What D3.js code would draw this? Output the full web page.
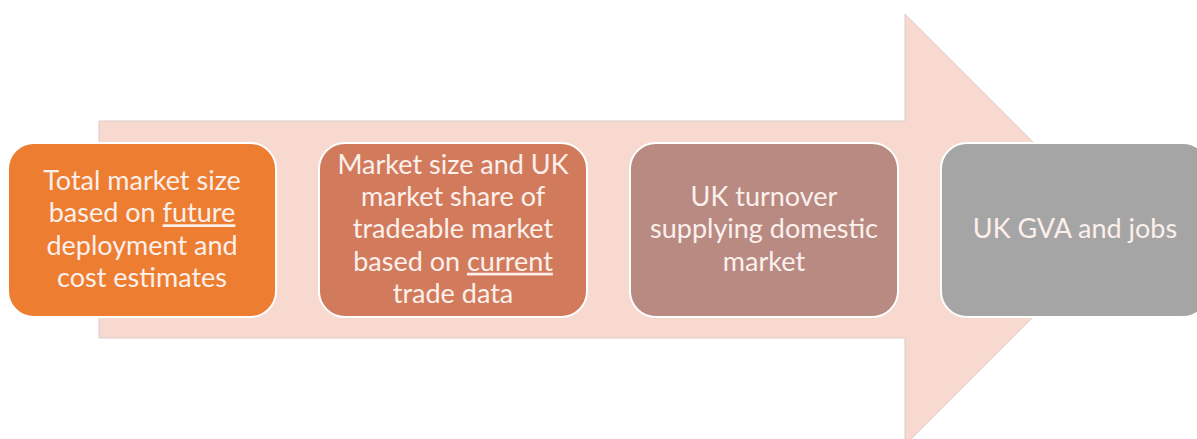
<!DOCTYPE html>
<html>
<head>
<meta charset="utf-8">
<script src="https://cdn.jsdelivr.net/npm/d3@7/dist/d3.min.js"></script>
<style>
  html, body { margin: 0; padding: 0; background: #ffffff; }
  svg { display: block; }
</style>
</head>
<body>
<svg id="chart" width="1197" height="439"></svg>
<script>
// ---- data ----
const steps = ["step1", "step2", "step3", "step4"];
// each label line; words wrapped in _ _ are underlined
const stepLabels = [
  ["Total market size", "based on _future_", "deployment and", "cost estimates"],
  ["Market size and UK", "market share of", "tradeable market", "based on _current_", "trade data"],
  ["UK turnover", "supplying domestic", "market"],
  ["UK GVA and jobs"]
];
const stepColors = ["#ed7d31", "#d27b5c", "#b88a82", "#a5a5a5"];

// ---- layout ----
const W = 1197, H = 439;
const svg = d3.select("#chart");

const x = d3.scaleBand()
  .domain(steps)
  .range([8, 1209])
  .paddingInner(0.138)
  .paddingOuter(0);

const y = d3.scaleLinear().domain([0, 1]).range([143, 317]);

// Arrow
const shaftTop = 121, shaftBottom = 338, shaftLeft = 99, headX = 905;
const headTop = 14, headBottom = 445;
const midY = (shaftTop + shaftBottom) / 2;
const tipX = headX + (midY - headTop);
const arrowPath = d3.path();
arrowPath.moveTo(shaftLeft, shaftTop);
arrowPath.lineTo(headX, shaftTop);
arrowPath.lineTo(headX, headTop);
arrowPath.lineTo(tipX, midY);
arrowPath.lineTo(headX, headBottom);
arrowPath.lineTo(headX, shaftBottom);
arrowPath.lineTo(shaftLeft, shaftBottom);
arrowPath.closePath();

svg.append("path")
  .attr("d", arrowPath.toString())
  .attr("fill", "#f8d9cf")
  .attr("stroke", "#dcccc8")
  .attr("stroke-width", 1);

// Boxes
const g = svg.selectAll("g.step")
  .data(steps)
  .join("g")
  .attr("class", "step");

g.append("rect")
  .attr("x", d => x(d))
  .attr("y", y(0))
  .attr("width", x.bandwidth())
  .attr("height", y(1) - y(0))
  .attr("rx", 26)
  .attr("ry", 26)
  .attr("fill", (d, i) => stepColors[i])
  .attr("stroke", "#ffffff")
  .attr("stroke-width", 2);

const lineH = 32.3;
g.each(function(d, i) {
  const lines = stepLabels[i];
  const cx = x(d) + x.bandwidth() / 2;
  const cy = (y(0) + y(1)) / 2 - 1;
  const startY = cy - (lines.length - 1) * lineH / 2;
  const t = d3.select(this).append("text")
    .attr("text-anchor", "middle")
    .attr("font-family", "Lato, 'Open Sans', sans-serif")
    .attr("font-size", 27)
    .attr("fill", "#fcf0ec");
  lines.forEach((ln, j) => {
    const ts = t.append("tspan")
      .attr("x", cx)
      .attr("y", startY + j * lineH)
      .attr("dy", "0.35em");
    const parts = ln.split("_");
    parts.forEach((p, k) => {
      if (!p) return;
      const s = ts.append("tspan").text(p);
      if (k % 2 === 1) s.attr("text-decoration", "underline");
    });
  });
});
</script>
</body>
</html>
